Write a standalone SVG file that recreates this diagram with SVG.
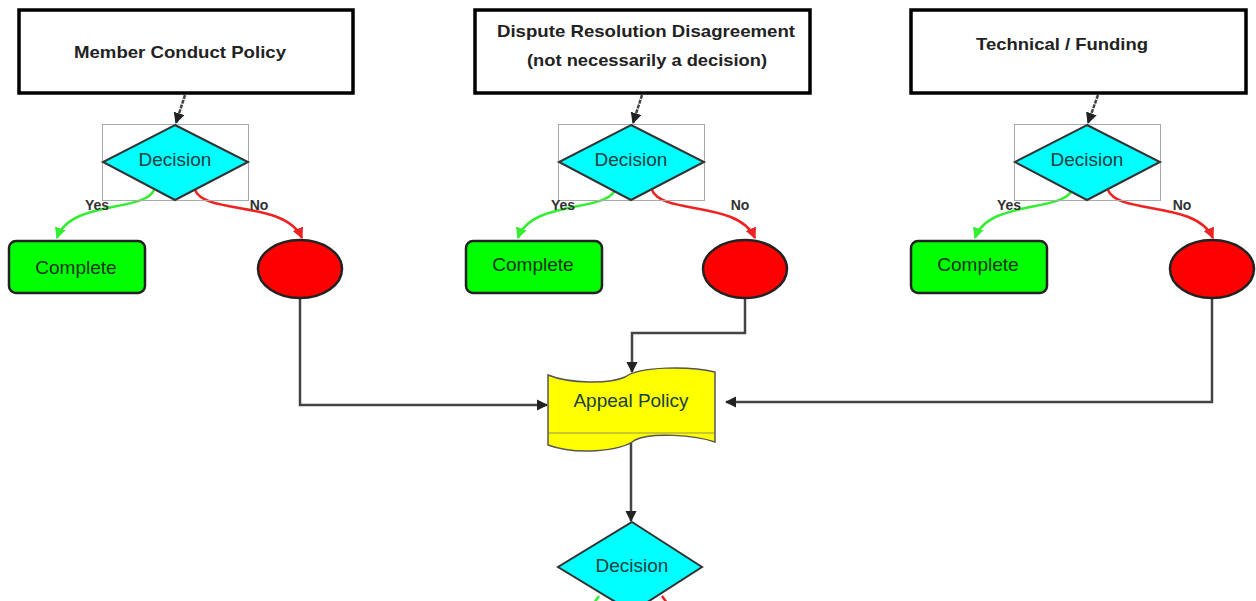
<svg xmlns="http://www.w3.org/2000/svg" width="1256" height="601" viewBox="0 0 1256 601">
<style>
.hdr{fill:#fff;stroke:#000;stroke-width:3.5}
.htxt{font-family:"Liberation Sans",Arial,sans-serif;font-weight:bold;font-size:17px;fill:#222;text-anchor:middle}
.frame{fill:none;stroke:#aaa;stroke-width:1}
.dia{fill:#00ffff;stroke:#333;stroke-width:2}
.dtxt{font-family:"Liberation Sans",Arial,sans-serif;font-size:19px;fill:#1a4040;text-anchor:middle}
.comp{fill:#00ff00;stroke:#222;stroke-width:2.5}
.ctxt{font-family:"Liberation Sans",Arial,sans-serif;font-size:19px;fill:#113311;text-anchor:middle}
.end{fill:#ff0000;stroke:#222;stroke-width:2.5}
.yn{font-family:"Liberation Sans",Arial,sans-serif;font-weight:bold;font-size:14px;fill:#333;text-anchor:middle}
.dash{fill:none;stroke:#444;stroke-width:2.5;stroke-dasharray:4 1}
.yes{fill:none;stroke:#33ee33;stroke-width:2.5}
.no{fill:none;stroke:#ee2222;stroke-width:2.5}
.flow{fill:none;stroke:#444;stroke-width:2.5}
.appeal{fill:#ffff00;stroke:#555;stroke-width:1.5}
</style>
<defs>
<marker id="ak" viewBox="0 0 10 10" refX="9" refY="5" markerWidth="4.5" markerHeight="4.5" orient="auto"><path d="M0,0L10,5L0,10z" fill="#222"/></marker>
<marker id="ag" viewBox="0 0 10 10" refX="9" refY="5" markerWidth="4.5" markerHeight="4.5" orient="auto"><path d="M0,0L10,5L0,10z" fill="#33ee33"/></marker>
<marker id="ar" viewBox="0 0 10 10" refX="9" refY="5" markerWidth="4.5" markerHeight="4.5" orient="auto"><path d="M0,0L10,5L0,10z" fill="#ee2222"/></marker>
</defs>

<g id="connectors">
<path class="dash" d="M185,95 L176,123" marker-end="url(#ak)"/>
<path class="dash" d="M642,95 L633,123" marker-end="url(#ak)"/>
<path class="dash" d="M1098,95 L1088,123" marker-end="url(#ak)"/>
<path class="yes" d="M154,190 C145,212 70,200 57,238" marker-end="url(#ag)"/>
<path class="no" d="M195,190 C205,215 285,200 302,238" marker-end="url(#ar)"/>
<path class="yes" d="M615,190 C606,212 531,200 518,238" marker-end="url(#ag)"/>
<path class="no" d="M652,190 C662,215 738,200 755,238" marker-end="url(#ar)"/>
<path class="yes" d="M1072,190 C1063,212 988,200 975,238" marker-end="url(#ag)"/>
<path class="no" d="M1108,190 C1118,215 1196,200 1213,238" marker-end="url(#ar)"/>
<path class="flow" d="M300,298 L300,405 L547,405" marker-end="url(#ak)"/>
<path class="flow" d="M745,298 L745,333 L632,333 L632,372" marker-end="url(#ak)"/>
<path class="flow" d="M1212,298 L1212,402 L726,402" marker-end="url(#ak)"/>
<path class="flow" d="M631,438 L631,521" marker-end="url(#ak)"/>
<path class="yes" d="M599,596 L594,603"/>
<path class="no" d="M662,596 L667,603"/>
</g>

<g id="box-member">
<rect class="hdr" x="19" y="10" width="334" height="83"/>
<text class="htxt" x="180" y="58" textLength="212" lengthAdjust="spacingAndGlyphs">Member Conduct Policy</text>
</g>
<g id="box-dispute">
<rect class="hdr" x="475" y="10" width="335" height="83"/>
<text class="htxt" x="646" y="37" textLength="298" lengthAdjust="spacingAndGlyphs">Dispute Resolution Disagreement</text>
<text class="htxt" x="647" y="66" textLength="240" lengthAdjust="spacingAndGlyphs">(not necessarily a decision)</text>
</g>
<g id="box-technical">
<rect class="hdr" x="911" y="10" width="335" height="83"/>
<text class="htxt" x="1062" y="50" textLength="172" lengthAdjust="spacingAndGlyphs">Technical / Funding</text>
</g>

<g id="decision-1">
<rect class="frame" x="102.5" y="124.5" width="146" height="76"/>
<polygon class="dia" points="175,125 248,162 175,200 103,162"/>
<text class="dtxt" x="175" y="166">Decision</text>
<text class="yn" x="97" y="210">Yes</text>
<text class="yn" x="259" y="210">No</text>
</g>
<g id="decision-2">
<rect class="frame" x="558.5" y="124.5" width="146" height="76"/>
<polygon class="dia" points="631,125 704,162 631,200 559,162"/>
<text class="dtxt" x="631" y="166">Decision</text>
<text class="yn" x="563" y="210">Yes</text>
<text class="yn" x="740" y="210">No</text>
</g>
<g id="decision-3">
<rect class="frame" x="1014.5" y="124.5" width="146" height="76"/>
<polygon class="dia" points="1087,125 1160,162 1087,200 1015,162"/>
<text class="dtxt" x="1087" y="166">Decision</text>
<text class="yn" x="1009" y="210">Yes</text>
<text class="yn" x="1182" y="210">No</text>
</g>

<g id="complete-1">
<rect class="comp" x="9" y="241" width="136" height="52" rx="7"/>
<text class="ctxt" x="76" y="274">Complete</text>
</g>
<g id="complete-2">
<rect class="comp" x="466" y="241" width="136" height="52" rx="7"/>
<text class="ctxt" x="533" y="271">Complete</text>
</g>
<g id="complete-3">
<rect class="comp" x="911" y="241" width="136" height="52" rx="7"/>
<text class="ctxt" x="978" y="271">Complete</text>
</g>

<g id="end-1"><ellipse class="end" cx="300" cy="269" rx="42" ry="29"/></g>
<g id="end-2"><ellipse class="end" cx="745" cy="269" rx="42" ry="29"/></g>
<g id="end-3"><ellipse class="end" cx="1212" cy="269" rx="42" ry="29"/></g>

<g id="appeal-policy">
<path class="appeal" d="M548,375 C570,384 610,384 625,377 C640,366 690,366 715,372 L715,442 C695,435 650,432 635,440 C620,452 575,455 548,445 Z"/>
<line x1="548" y1="433" x2="715" y2="433" stroke="#777" stroke-width="0.8"/>
<text class="dtxt" x="631" y="407" fill="#333">Appeal Policy</text>
</g>

<g id="decision-4">
<polygon class="dia" points="632,522 702,567 632,612 558,567"/>
<text class="dtxt" x="632" y="572">Decision</text>
</g>
</svg>
